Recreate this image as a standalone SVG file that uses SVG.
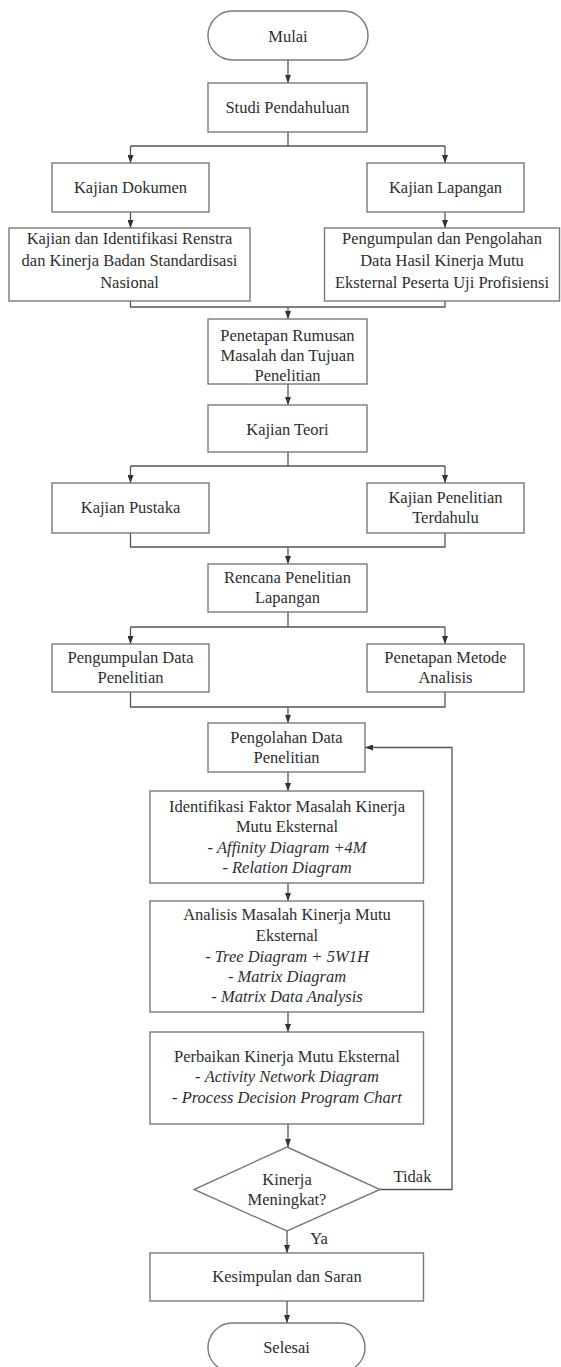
<svg xmlns="http://www.w3.org/2000/svg" width="561" height="1367" viewBox="0 0 561 1367">
  <style>
    .box { fill: #ffffff; stroke: #7a7a7a; stroke-width: 1.4; }
    .conn { fill: none; stroke: #555555; stroke-width: 1.3; }
    text { font-size: 16.5px; fill: #2e2e2e; text-anchor: middle; }
  </style>
  <defs>
    <marker id="arrow" viewBox="0 0 8 6" refX="8" refY="3" markerWidth="8" markerHeight="6" markerUnits="userSpaceOnUse" orient="auto">
      <path d="M0,0 L8,3 L0,6 z" fill="#333333"/>
    </marker>
  </defs>
  <rect width="561" height="1367" fill="#ffffff"/>

  <!-- connectors -->
  <g id="connectors" class="conn">
    <path d="M288,60 V83" marker-end="url(#arrow)"/>
    <path d="M288,132 V146 M130.5,146 H445"/>
    <path d="M130.5,146 V163" marker-end="url(#arrow)"/>
    <path d="M445,146 V163" marker-end="url(#arrow)"/>
    <path d="M130.5,212 V228" marker-end="url(#arrow)"/>
    <path d="M445,212 V228" marker-end="url(#arrow)"/>
    <path d="M130.5,301 V307 H445 V301"/>
    <path d="M288,307 V319" marker-end="url(#arrow)"/>
    <path d="M288,384 V405" marker-end="url(#arrow)"/>
    <path d="M288,452 V466 M130.5,466 H445"/>
    <path d="M130.5,466 V483" marker-end="url(#arrow)"/>
    <path d="M445,466 V483" marker-end="url(#arrow)"/>
    <path d="M130.5,533 V547 H445 V533"/>
    <path d="M288,547 V564" marker-end="url(#arrow)"/>
    <path d="M288,612 V627 M130.5,627 H445"/>
    <path d="M130.5,627 V644" marker-end="url(#arrow)"/>
    <path d="M445,627 V644" marker-end="url(#arrow)"/>
    <path d="M130.5,692 V707 H445 V692"/>
    <path d="M288,707 V723" marker-end="url(#arrow)"/>
    <path d="M288,772 V791" marker-end="url(#arrow)"/>
    <path d="M288,883 V901" marker-end="url(#arrow)"/>
    <path d="M288,1012 V1032" marker-end="url(#arrow)"/>
    <path d="M288,1124 V1147" marker-end="url(#arrow)"/>
    <path d="M380,1189.5 H452 V747.5 H365" marker-end="url(#arrow)"/>
    <path d="M287,1231 V1253" marker-end="url(#arrow)"/>
    <path d="M287,1301 V1323" marker-end="url(#arrow)"/>
  </g>

  <g id="mulai">
    <rect class="box" x="208" y="11" width="160" height="49" rx="24.5"/>
    <text font-family="Liberation Serif" x="288" y="42">Mulai</text>
  </g>
  <g id="studi-pendahuluan">
    <rect class="box" x="208" y="83" width="159" height="49"/>
    <text font-family="Liberation Serif" x="287.5" y="113">Studi Pendahuluan</text>
  </g>
  <g id="kajian-dokumen">
    <rect class="box" x="52" y="163" width="157" height="49"/>
    <text font-family="Liberation Serif" x="130.5" y="193">Kajian Dokumen</text>
  </g>
  <g id="kajian-lapangan">
    <rect class="box" x="367" y="163" width="157" height="49"/>
    <text font-family="Liberation Serif" x="445.5" y="193">Kajian Lapangan</text>
  </g>
  <g id="kajian-renstra">
    <rect class="box" x="9" y="228" width="241" height="73"/>
    <text font-family="Liberation Serif" x="129.5" y="244">Kajian dan Identifikasi Renstra</text>
    <text font-family="Liberation Serif" x="129.5" y="266">dan Kinerja Badan Standardisasi</text>
    <text font-family="Liberation Serif" x="129.5" y="288">Nasional</text>
  </g>
  <g id="pengumpulan-pengolahan">
    <rect class="box" x="324.5" y="228" width="235" height="73"/>
    <text font-family="Liberation Serif" x="442" y="244">Pengumpulan dan Pengolahan</text>
    <text font-family="Liberation Serif" x="442" y="266">Data Hasil Kinerja Mutu</text>
    <text font-family="Liberation Serif" x="442" y="288">Eksternal Peserta Uji Profisiensi</text>
  </g>
  <g id="rumusan-masalah">
    <rect class="box" x="208" y="319" width="159" height="65"/>
    <text font-family="Liberation Serif" x="287.5" y="341">Penetapan Rumusan</text>
    <text font-family="Liberation Serif" x="287.5" y="361">Masalah dan Tujuan</text>
    <text font-family="Liberation Serif" x="287.5" y="381">Penelitian</text>
  </g>
  <g id="kajian-teori">
    <rect class="box" x="208" y="405" width="159" height="47"/>
    <text font-family="Liberation Serif" x="287.5" y="435">Kajian Teori</text>
  </g>
  <g id="kajian-pustaka">
    <rect class="box" x="52" y="483" width="157" height="50"/>
    <text font-family="Liberation Serif" x="130.5" y="513">Kajian Pustaka</text>
  </g>
  <g id="penelitian-terdahulu">
    <rect class="box" x="367" y="483" width="157" height="50"/>
    <text font-family="Liberation Serif" x="445.5" y="503">Kajian Penelitian</text>
    <text font-family="Liberation Serif" x="445.5" y="523">Terdahulu</text>
  </g>
  <g id="rencana-penelitian">
    <rect class="box" x="208" y="564" width="159" height="48"/>
    <text font-family="Liberation Serif" x="287.5" y="583">Rencana Penelitian</text>
    <text font-family="Liberation Serif" x="287.5" y="603">Lapangan</text>
  </g>
  <g id="pengumpulan-data">
    <rect class="box" x="52" y="644" width="157" height="48"/>
    <text font-family="Liberation Serif" x="130.5" y="663">Pengumpulan Data</text>
    <text font-family="Liberation Serif" x="130.5" y="683">Penelitian</text>
  </g>
  <g id="metode-analisis">
    <rect class="box" x="367" y="644" width="157" height="48"/>
    <text font-family="Liberation Serif" x="445.5" y="663">Penetapan Metode</text>
    <text font-family="Liberation Serif" x="445.5" y="683">Analisis</text>
  </g>
  <g id="pengolahan-data">
    <rect class="box" x="208" y="723" width="157" height="49"/>
    <text font-family="Liberation Serif" x="286.5" y="743">Pengolahan Data</text>
    <text font-family="Liberation Serif" x="286.5" y="763">Penelitian</text>
  </g>
  <g id="identifikasi-faktor">
    <rect class="box" x="150" y="791" width="273.5" height="92"/>
    <text font-family="Liberation Serif" x="287" y="812">Identifikasi Faktor Masalah Kinerja</text>
    <text font-family="Liberation Serif" x="287" y="832">Mutu Eksternal</text>
    <text font-family="Liberation Serif" x="287" y="853">- <tspan font-style="italic">Affinity Diagram +4M</tspan></text>
    <text font-family="Liberation Serif" x="287" y="873">- <tspan font-style="italic">Relation Diagram</tspan></text>
  </g>
  <g id="analisis-masalah">
    <rect class="box" x="150" y="901" width="273.5" height="111"/>
    <text font-family="Liberation Serif" x="287" y="920">Analisis Masalah Kinerja Mutu</text>
    <text font-family="Liberation Serif" x="287" y="941">Eksternal</text>
    <text font-family="Liberation Serif" x="287" y="962">- <tspan font-style="italic">Tree Diagram + 5W1H</tspan></text>
    <text font-family="Liberation Serif" x="287" y="982">- <tspan font-style="italic">Matrix Diagram</tspan></text>
    <text font-family="Liberation Serif" x="287" y="1002">- <tspan font-style="italic">Matrix Data Analysis</tspan></text>
  </g>
  <g id="perbaikan-kinerja">
    <rect class="box" x="150" y="1032" width="273.5" height="92"/>
    <text font-family="Liberation Serif" x="287" y="1062">Perbaikan Kinerja Mutu Eksternal</text>
    <text font-family="Liberation Serif" x="287" y="1082">- <tspan font-style="italic">Activity Network Diagram</tspan></text>
    <text font-family="Liberation Serif" x="287" y="1103">- <tspan font-style="italic">Process Decision Program Chart</tspan></text>
  </g>
  <g id="kinerja-meningkat">
    <polygon class="box" points="287,1147 380,1189.5 287,1231 194,1189.5"/>
    <text font-family="Liberation Serif" x="287" y="1185">Kinerja</text>
    <text font-family="Liberation Serif" x="287" y="1205">Meningkat?</text>
    <text font-family="Liberation Serif" x="412.5" y="1182">Tidak</text>
    <text font-family="Liberation Serif" x="319" y="1244">Ya</text>
  </g>
  <g id="kesimpulan-saran">
    <rect class="box" x="150" y="1253" width="273.5" height="48"/>
    <text font-family="Liberation Serif" x="287" y="1282">Kesimpulan dan Saran</text>
  </g>
  <g id="selesai">
    <rect class="box" x="208" y="1323" width="157" height="49" rx="24.5"/>
    <text font-family="Liberation Serif" x="286.5" y="1353">Selesai</text>
  </g>
</svg>
